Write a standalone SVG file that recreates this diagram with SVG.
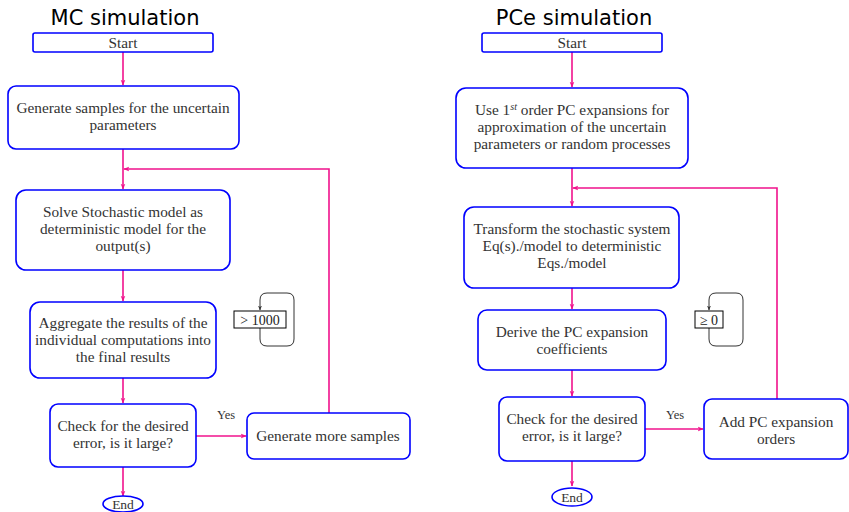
<svg xmlns="http://www.w3.org/2000/svg" width="849" height="512" viewBox="0 0 849 512">
<style>
.box{fill:#fff;stroke:#0000ff;stroke-width:1.6}
.t{font-family:"Liberation Serif","DejaVu Serif",serif;font-size:15.3px;fill:#333;text-anchor:middle}
.y{font-family:"Liberation Serif",serif;font-size:12.5px;fill:#333;text-anchor:middle}
.e{font-family:"Liberation Serif",serif;font-size:13.5px;fill:#333;text-anchor:middle}
.title{font-family:"DejaVu Sans",sans-serif;font-size:21px;fill:#000;text-anchor:middle}
.c{fill:none;stroke:#f0128c;stroke-width:1.6}
.k{fill:none;stroke:#333;stroke-width:1}
.kb{fill:#fff;stroke:#000;stroke-width:1}
.m{font-family:"Liberation Serif",serif;font-size:14px;fill:#222;text-anchor:middle}
</style>
<defs>
<marker id="a" viewBox="0 0 10 10" refX="9" refY="5" markerWidth="6" markerHeight="6" markerUnits="userSpaceOnUse" orient="auto"><path d="M0,1 L10,5 L0,9 L3,5 Z" fill="#f0128c"/></marker>
<marker id="b" viewBox="0 0 10 10" refX="9" refY="5" markerWidth="5" markerHeight="5" markerUnits="userSpaceOnUse" orient="auto"><path d="M0,1 L10,5 L0,9 L3,5 Z" fill="#333"/></marker>
</defs>
<text class="title" x="125" y="25">MC simulation</text>
<text class="title" x="574" y="25">PCe simulation</text>
<g id="connectors">
<path class="c" d="M123,52 V85" marker-end="url(#a)"/>
<path class="c" d="M123,149 V189" marker-end="url(#a)"/>
<path class="c" d="M329,413 V169 H124" marker-end="url(#a)"/>
<path class="c" d="M123,270 V301" marker-end="url(#a)"/>
<path class="c" d="M123,378 V403" marker-end="url(#a)"/>
<path class="c" d="M196,436 H246" marker-end="url(#a)"/>
<path class="c" d="M123,467 V496" marker-end="url(#a)"/>
<path class="c" d="M572,52 V87" marker-end="url(#a)"/>
<path class="c" d="M572,168 V206" marker-end="url(#a)"/>
<path class="c" d="M777,399 V188 H573" marker-end="url(#a)"/>
<path class="c" d="M572,288 V309" marker-end="url(#a)"/>
<path class="c" d="M572,370 V396" marker-end="url(#a)"/>
<path class="c" d="M645,429 H703" marker-end="url(#a)"/>
<path class="c" d="M572,461 V486" marker-end="url(#a)"/>
<path class="k" d="M260,328 V339 Q260,346 267,346 H287 Q294,346 294,339 V300 Q294,293 287,293 H267 Q260,293 260,300 V310" marker-end="url(#b)"/>
<path class="k" d="M709,328 V339 Q709,346 716,346 H736 Q743,346 743,339 V300 Q743,293 736,293 H716 Q709,293 709,300 V310" marker-end="url(#b)"/>
</g>
<g id="mc-start"><rect class="box" x="33" y="33" width="180" height="19" rx="2"/><text class="t" x="123" y="47.5">Start</text></g>
<g id="mc-gen"><rect class="box" x="8" y="86" width="231" height="63" rx="8"/><text class="t" x="123" y="113">Generate samples for the uncertain</text><text class="t" x="123" y="130">parameters</text></g>
<g id="mc-solve"><rect class="box" x="16" y="190" width="214" height="80" rx="10"/><text class="t" x="123" y="217">Solve Stochastic model as</text><text class="t" x="123" y="234">deterministic model for the</text><text class="t" x="123" y="251">output(s)</text></g>
<g id="mc-agg"><rect class="box" x="30" y="302" width="186" height="76" rx="10"/><text class="t" x="123" y="328">Aggregate the results of the</text><text class="t" x="123" y="345">individual computations into</text><text class="t" x="123" y="362">the final results</text></g>
<g id="mc-check"><rect class="box" x="50" y="404" width="146" height="63" rx="8"/><text class="t" x="123" y="431">Check for the desired</text><text class="t" x="123" y="448">error, is it large?</text></g>
<g id="mc-more"><rect class="box" x="247" y="413" width="163" height="46" rx="7"/><text class="t" x="328" y="440.5">Generate more samples</text></g>
<g id="mc-end"><ellipse class="box" cx="123" cy="504" rx="20" ry="8"/><text class="e" x="123" y="509">End</text></g>
<g id="mc-count"><rect class="kb" x="234" y="311" width="52" height="17"/><text class="m" x="260" y="324.5">&gt; 1000</text></g>
<text class="y" x="226" y="419">Yes</text>
<g id="pc-start"><rect class="box" x="482" y="33" width="180" height="19" rx="2"/><text class="t" x="572" y="47.5">Start</text></g>
<g id="pc-use"><rect class="box" x="456" y="88" width="232" height="80" rx="10"/><text class="t" x="572" y="115">Use 1<tspan font-style="italic" font-size="10" dy="-5">st</tspan><tspan dy="5"> order PC expansions for</tspan></text><text class="t" x="572" y="132">approximation of the uncertain</text><text class="t" x="572" y="149">parameters or random processes</text></g>
<g id="pc-transform"><rect class="box" x="464" y="207" width="215" height="81" rx="10"/><text class="t" x="572" y="234">Transform the stochastic system</text><text class="t" x="572" y="251">Eq(s)./model to deterministic</text><text class="t" x="572" y="268">Eqs./model</text></g>
<g id="pc-derive"><rect class="box" x="478" y="310" width="188" height="60" rx="9"/><text class="t" x="572" y="337">Derive the PC expansion</text><text class="t" x="572" y="354">coefficients</text></g>
<g id="pc-check"><rect class="box" x="499" y="397" width="146" height="64" rx="8"/><text class="t" x="572" y="424">Check for the desired</text><text class="t" x="572" y="441">error, is it large?</text></g>
<g id="pc-add"><rect class="box" x="704" y="399" width="144" height="60" rx="8"/><text class="t" x="776" y="427">Add PC expansion</text><text class="t" x="776" y="444">orders</text></g>
<g id="pc-end"><ellipse class="box" cx="572" cy="497" rx="20" ry="9"/><text class="e" x="572" y="502">End</text></g>
<g id="pc-count"><rect class="kb" x="695" y="311" width="28" height="17"/><text class="m" x="709" y="324.5">≥ 0</text></g>
<text class="y" x="675" y="419">Yes</text>
</svg>
